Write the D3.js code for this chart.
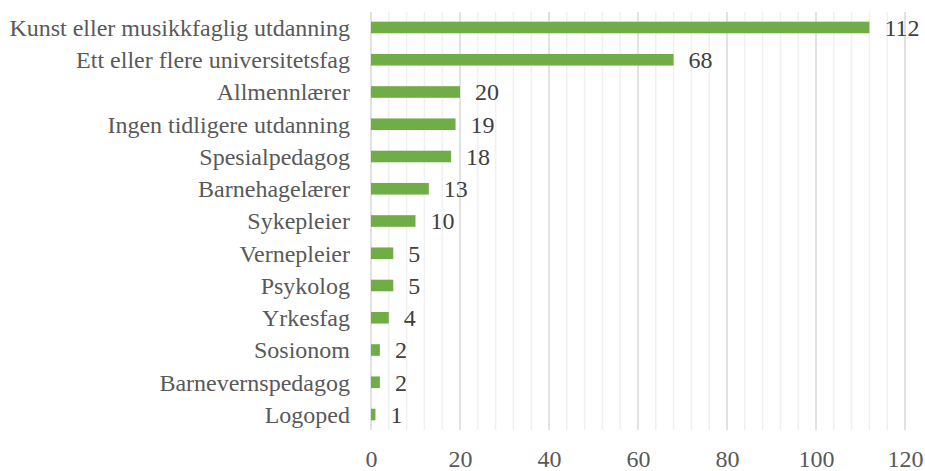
<!DOCTYPE html>
<html>
<head>
<meta charset="utf-8">
<script src="https://cdn.jsdelivr.net/npm/d3@7"></script>
<style>
  body { margin: 0; background: #fff; }
</style>
</head>
<body>
<div id="chart"></div>
<script>
const categories = [
  "Kunst eller musikkfaglig utdanning",
  "Ett eller flere universitetsfag",
  "Allmennlærer",
  "Ingen tidligere utdanning",
  "Spesialpedagog",
  "Barnehagelærer",
  "Sykepleier",
  "Vernepleier",
  "Psykolog",
  "Yrkesfag",
  "Sosionom",
  "Barnevernspedagog",
  "Logoped"
];
const values = [112, 68, 20, 19, 18, 13, 10, 5, 5, 4, 2, 2, 1];
const xTicks = [0, 20, 40, 60, 80, 100, 120];

const width = 925, height = 471;
const margin = { top: 12, right: 20, bottom: 41, left: 371 };
const font = "'Liberation Serif', 'Times New Roman', Times, serif";

const svg = d3.select("#chart").append("svg")
  .attr("width", width)
  .attr("height", height)
  .attr("font-family", font);

const x = d3.scaleLinear()
  .domain([0, 120])
  .range([margin.left, margin.left + 534]);

const y = d3.scaleBand()
  .domain(categories)
  .range([margin.top, height - margin.bottom])
  .paddingInner(0.64)
  .paddingOuter(0.3);

// minor gridlines
svg.append("g")
  .selectAll("line")
  .data(d3.range(0, 121, 4).filter(v => v % 20 !== 0))
  .enter().append("line")
  .attr("x1", d => x(d)).attr("x2", d => x(d))
  .attr("y1", margin.top).attr("y2", height - margin.bottom)
  .style("stroke", "#f0f0f0")
  .style("stroke-width", 1.5);

// major gridlines
svg.append("g")
  .selectAll("line")
  .data(xTicks)
  .enter().append("line")
  .attr("x1", d => x(d)).attr("x2", d => x(d))
  .attr("y1", margin.top).attr("y2", height - margin.bottom)
  .style("stroke", "#d9d9d9")
  .style("stroke-width", 1.5);

// bars
svg.append("g")
  .selectAll("rect")
  .data(values)
  .enter().append("rect")
  .attr("x", x(0))
  .attr("y", (d, i) => y(categories[i]))
  .attr("width", d => x(d) - x(0))
  .attr("height", y.bandwidth())
  .attr("fill", "#70ad47");

// value labels
svg.append("g")
  .selectAll("text")
  .data(values)
  .enter().append("text")
  .attr("x", d => x(d) + 15)
  .attr("y", (d, i) => y(categories[i]) + y.bandwidth() / 2)
  .attr("dy", "0.35em")
  .attr("fill", "#404040")
  .attr("font-family", font)
  .style("font-size", "24px")
  .text(d => d);

// category labels
svg.append("g")
  .selectAll("text")
  .data(categories)
  .enter().append("text")
  .attr("x", margin.left - 21)
  .attr("y", d => y(d) + y.bandwidth() / 2)
  .attr("dy", "0.35em")
  .attr("text-anchor", "end")
  .attr("fill", "#595959")
  .attr("font-family", font)
  .style("font-size", "24px")
  .text(d => d);

// x axis
const xAxis = svg.append("g")
  .attr("transform", `translate(0,${height - margin.bottom})`)
  .call(d3.axisBottom(x).tickValues(xTicks).tickSize(0).tickPadding(20))
  .attr("font-family", font);
xAxis.select(".domain").remove();
xAxis.selectAll("text")
  .attr("fill", "#595959")
  .style("font-size", "24px");
</script>
</body>
</html>
